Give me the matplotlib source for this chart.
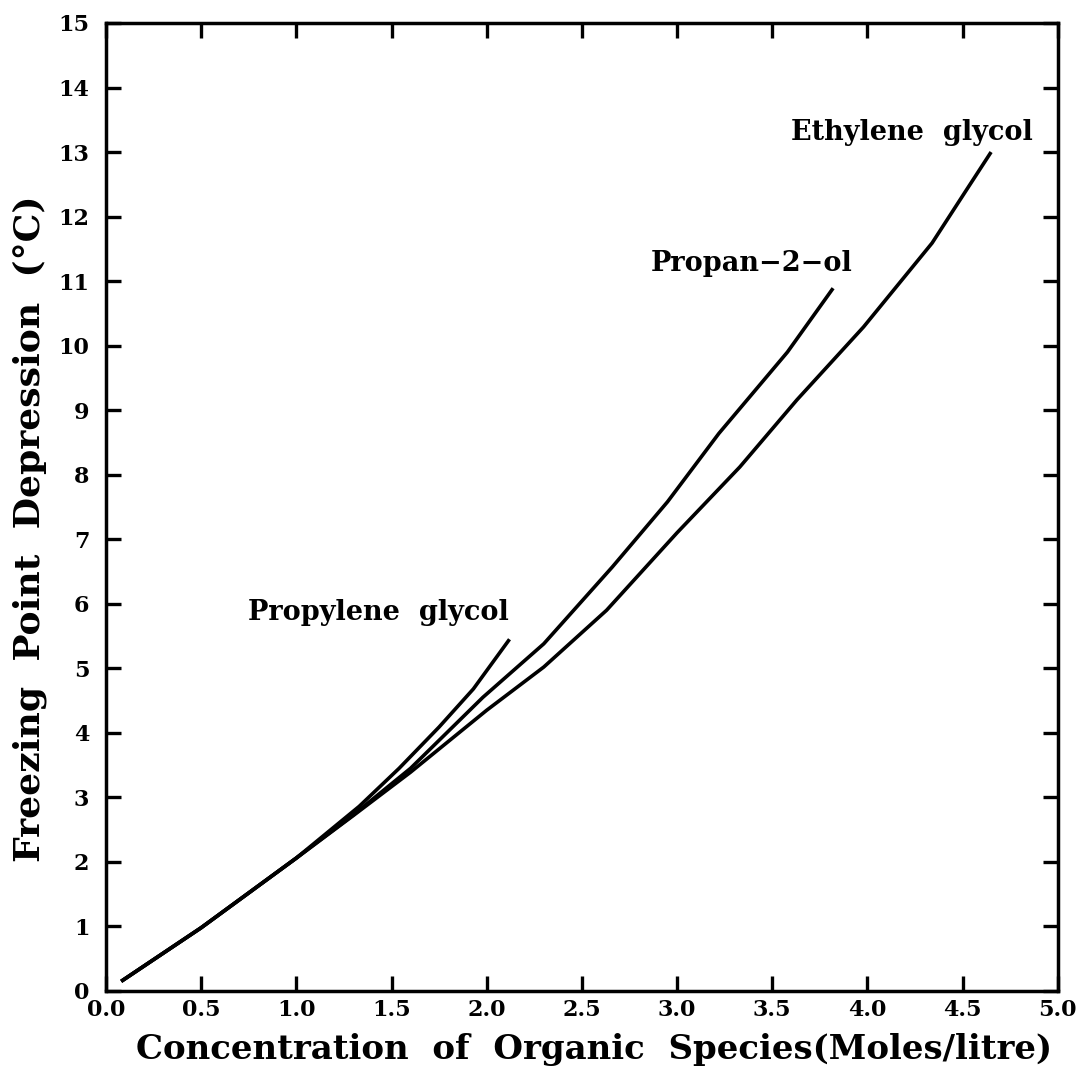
import matplotlib
matplotlib.use("Agg")
import numpy as np
import matplotlib.pyplot as plt

# Freezing point depression vs. concentration for three organic species
eg_conc = [0.08, 0.5, 1.0, 1.3, 1.6, 2.0, 2.3, 2.63, 3.0, 3.33, 3.63, 3.98, 4.34, 4.52, 4.65]
eg_dep = [0.15, 0.98, 2.06, 2.72, 3.39, 4.35, 5.02, 5.9, 7.1, 8.12, 9.16, 10.29, 11.59, 12.41, 13.0]

ipa_conc = [0.08, 0.5, 1.0, 1.3, 1.6, 1.98, 2.3, 2.66, 2.95, 3.22, 3.58, 3.82]
ipa_dep = [0.15, 0.98, 2.06, 2.73, 3.45, 4.55, 5.38, 6.57, 7.58, 8.64, 9.9, 10.89]

pg_conc = [0.08, 0.5, 1.0, 1.33, 1.54, 1.75, 1.93, 2.12]
pg_dep = [0.15, 0.98, 2.06, 2.86, 3.45, 4.09, 4.68, 5.45]

labels = ["Ethylene  glycol", "Propan\u22122\u2212ol", "Propylene  glycol"]
label_pos = [(3.6, 13.3), (2.86, 11.28), (0.745, 5.86)]

x_ticks = np.arange(0, 5.01, 0.5)
y_ticks = np.arange(0, 16, 1)

plt.rcParams['font.family'] = ['DejaVu Serif']
plt.rcParams['font.weight'] = 'bold'

fig = plt.figure(figsize=(10.76, 10.74), dpi=100)
ax = fig.add_axes([0.0985, 0.0773, 0.8845, 0.9013])

for xs, ys in [(eg_conc, eg_dep), (ipa_conc, ipa_dep), (pg_conc, pg_dep)]:
    ax.plot(xs, ys, color='black', linewidth=2.6, solid_capstyle='butt',
            solid_joinstyle='round')

for text, (tx, ty) in zip(labels, label_pos):
    ax.text(tx, ty, text, fontsize=19.5, fontweight='bold', ha='left', va='center')

ax.set_xlim(0, 5)
ax.set_ylim(0, 15)
ax.set_xticks(x_ticks)
ax.set_xticklabels([f"{v:.1f}" for v in x_ticks])
ax.set_yticks(y_ticks)
ax.set_yticklabels([str(int(v)) for v in y_ticks])

ax.tick_params(direction='in', length=11, width=2.4, top=True, right=True,
               labelsize=16)
ax.tick_params(axis='x', pad=6)
ax.tick_params(axis='y', pad=12)
for spine in ax.spines.values():
    spine.set_linewidth(2.5)

ax.set_xlabel("Concentration  of  Organic  Species(Moles/litre)",
              fontsize=24.5, fontweight='bold')
ax.xaxis.set_label_coords(0.513, -0.043, transform=ax.transAxes)
ax.xaxis.label.set_va('top')
ax.set_ylabel("Freezing  Point  Depression  (°C)",
              fontsize=26, fontweight='bold')
ax.yaxis.set_label_coords(-0.080, 0.478, transform=ax.transAxes)
ax.yaxis.label.set_va('center')

fig.savefig("out.png", dpi=100)
